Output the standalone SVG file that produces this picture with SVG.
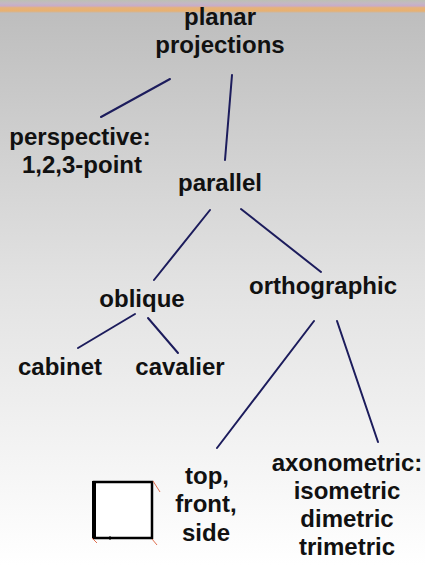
<svg xmlns="http://www.w3.org/2000/svg" width="425" height="565" viewBox="0 0 425 565">
<defs>
<linearGradient id="bg" x1="0" y1="0" x2="0" y2="1">
<stop offset="0" stop-color="#bcbcbc"/>
<stop offset="0.5" stop-color="#e2e2e2"/>
<stop offset="1" stop-color="#ffffff"/>
</linearGradient>
<linearGradient id="band" x1="0" y1="0" x2="0" y2="1">
<stop offset="0" stop-color="#bcc0b4"/>
<stop offset="0.25" stop-color="#c4b8c4"/>
<stop offset="0.45" stop-color="#c8acc8"/>
<stop offset="0.6" stop-color="#e6b27a"/>
<stop offset="0.85" stop-color="#e8b070"/>
<stop offset="1" stop-color="#bdbdbd"/>
</linearGradient>
</defs>
<style>
text{font-family:"Liberation Sans",Arial,sans-serif;font-weight:bold;font-size:24px;fill:#111;text-anchor:middle}
.c line{stroke:#1c1c5c;stroke-width:2;stroke-linecap:round}
</style>
<rect x="0" y="0" width="425" height="565" fill="url(#bg)"/>
<rect x="0" y="0" width="425" height="13" fill="url(#band)"/>
<g class="c" id="connectors">
<line x1="101" y1="117" x2="170" y2="79"/>
<line x1="232" y1="75" x2="225" y2="160"/>
<line x1="210" y1="210" x2="154" y2="280"/>
<line x1="241" y1="209" x2="321" y2="272"/>
<line x1="135" y1="314" x2="78" y2="348"/>
<line x1="148" y1="318" x2="178" y2="353"/>
<line x1="314" y1="321" x2="217" y2="448"/>
<line x1="337" y1="321" x2="378" y2="442"/>
</g>
<g id="planar"><text x="220" y="25">planar</text><text x="220" y="53">projections</text></g>
<g id="perspective"><text x="80" y="145">perspective:</text><text x="82" y="173">1,2,3-point</text></g>
<g id="parallel"><text x="220" y="191">parallel</text></g>
<g id="oblique"><text x="142" y="307">oblique</text></g>
<g id="orthographic"><text x="323" y="294">orthographic</text></g>
<g id="cabinet"><text x="60" y="375">cabinet</text></g>
<g id="cavalier"><text x="180" y="375">cavalier</text></g>
<g id="topfrontside"><text x="207" y="484">top,</text><text x="206" y="512">front,</text><text x="206" y="541">side</text></g>
<g id="axonometric"><text x="347" y="471">axonometric:</text><text x="347" y="499">isometric</text><text x="347" y="527">dimetric</text><text x="347" y="555">trimetric</text></g>
<g id="square">
<rect x="94" y="482" width="58" height="56" fill="#fff" stroke="#000" stroke-width="2.5"/>
<line x1="94" y1="481" x2="94" y2="539" stroke="#000" stroke-width="4"/>
<line x1="110" y1="536" x2="110" y2="540" stroke="#000" stroke-width="1"/>
<g stroke="#e07050" stroke-width="1" fill="none">
<line x1="153" y1="481" x2="160" y2="492"/>
<line x1="92" y1="538" x2="97" y2="543"/>
<line x1="152" y1="539" x2="157" y2="545"/>
</g>
</g>
</svg>
